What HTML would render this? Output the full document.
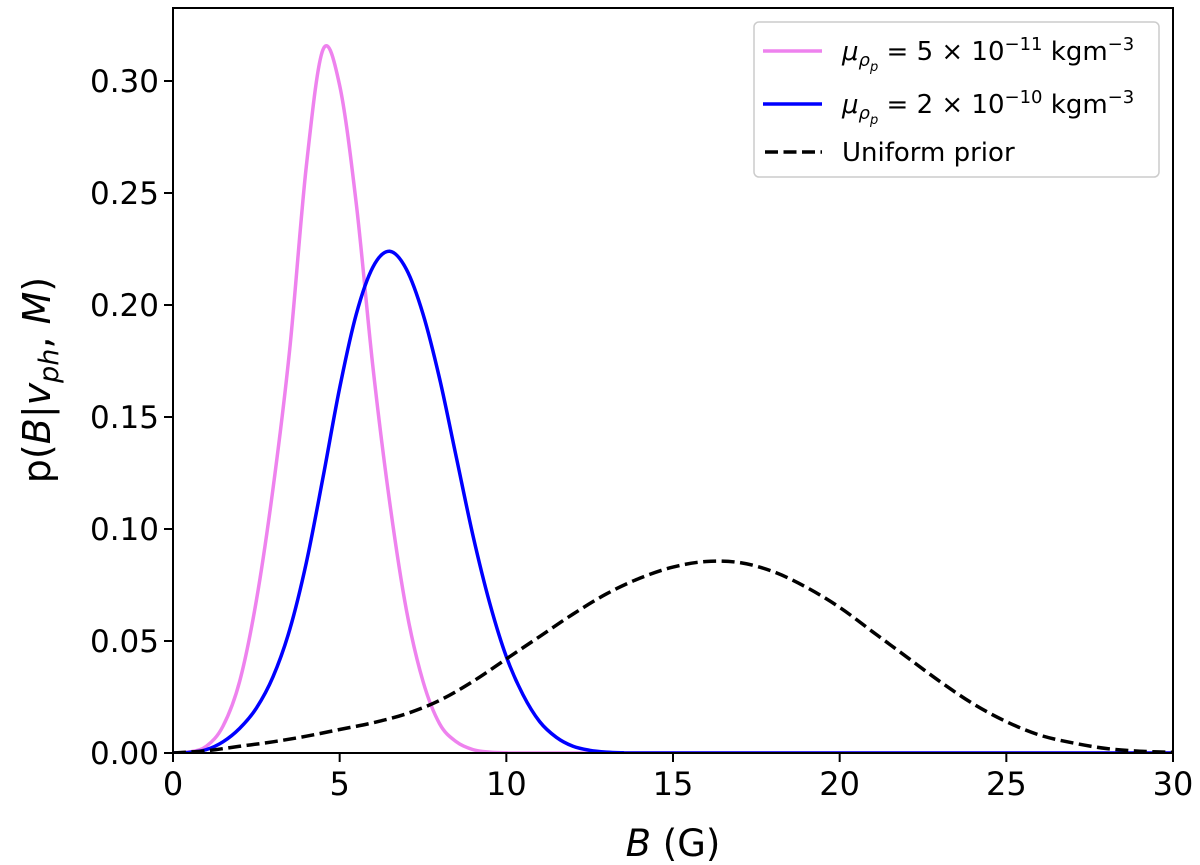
<!DOCTYPE html>
<html><head><meta charset="utf-8"><style>
body{margin:0;background:#fff}
svg{display:block;font-family:"DejaVu Sans","Liberation Sans",sans-serif}
</style></head><body>
<svg id="chart" width="1200" height="865">
</svg>
<script>
const xTicks=[0,5,10,15,20,25,30];
const yTicks=[0,0.05,0.10,0.15,0.20,0.25,0.30];
const yTickLabels=["0.00","0.05","0.10","0.15","0.20","0.25","0.30"];
const pinkB=[0,0.5,1,1.5,2,2.5,3,3.5,4,4.5,5,5.5,6,6.5,7,7.5,8,8.5,9,9.5,10,11,30];
const pinkP=[0,0.0005,0.003,0.012,0.032,0.068,0.118,0.18,0.262,0.314,0.298,0.245,0.172,0.112,0.064,0.032,0.013,0.005,0.0015,0.0004,0.0001,0,0];
const blueB=[0,0.5,1,1.5,2,2.5,3,3.5,4,4.5,5,5.5,6,6.5,7,7.5,8,8.5,9,9.5,10,10.5,11,11.5,12,12.5,13,13.5,14,30];
const blueP=[0,0.0003,0.0015,0.005,0.011,0.02,0.034,0.055,0.085,0.123,0.163,0.196,0.217,0.224,0.216,0.196,0.167,0.132,0.097,0.067,0.043,0.026,0.014,0.007,0.003,0.0012,0.0004,0.0001,0,0];
const priorB=[0,1,2,3,4,5,6,7,8,9,10,11,12,13,14,15,16,17,18,19,20,21,22,23,24,25,26,27,28,29,30];
const priorP=[0,0.001,0.003,0.005,0.0075,0.0105,0.0135,0.0175,0.0235,0.032,0.042,0.052,0.062,0.071,0.078,0.083,0.0855,0.085,0.081,0.074,0.065,0.054,0.043,0.032,0.022,0.014,0.008,0.0045,0.002,0.0008,0.0003];

const L=173,R=1173,T=8,B=753;
const sx=v=>L+(v/30)*(R-L);
const sy=v=>B-(v/0.30)*(B-81);
const NS="http://www.w3.org/2000/svg";
const svg=document.getElementById('chart');
function mk(tag,attrs,parent){const e=document.createElementNS(NS,tag);for(const k in attrs)e.setAttribute(k,attrs[k]);(parent||svg).appendChild(e);return e;}
function pathFor(xs,ys){
  const p=xs.map((x,i)=>[sx(x),sy(ys[i])]);
  let d=`M${p[0][0]},${p[0][1]}`;
  for(let i=0;i<p.length-1;i++){
    const p0=p[i-1]||p[i],p1=p[i],p2=p[i+1],p3=p[i+2]||p2;
    const c1=[p1[0]+(p2[0]-p0[0])/6,p1[1]+(p2[1]-p0[1])/6];
    const c2=[p2[0]-(p3[0]-p1[0])/6,p2[1]-(p3[1]-p1[1])/6];
    d+=`C${c1[0]},${Math.min(c1[1],B)} ${c2[0]},${Math.min(c2[1],B)} ${p2[0]},${p2[1]}`;
  }
  return d;
}
const clip=mk('clipPath',{id:'cp'});mk('rect',{x:L,y:T,width:R-L,height:B-T},clip);
let e;
e=mk('path',{d:pathFor(pinkB,pinkP),fill:'none',stroke:'#ee82ee','stroke-width':3.5,'clip-path':'url(#cp)'});

e=mk('path',{d:pathFor(blueB,blueP),fill:'none',stroke:'#0000ff','stroke-width':3.5,'clip-path':'url(#cp)'});

e=mk('path',{d:pathFor(priorB,priorP),fill:'none',stroke:'#000','stroke-width':3.5,'stroke-dasharray':'13,5.5','clip-path':'url(#cp)'});

e=mk('rect',{x:L,y:T,width:R-L,height:B-T,fill:'none',stroke:'#000','stroke-width':2});

xTicks.forEach(v=>{
  const g=mk('g',{});
  mk('line',{x1:sx(v),x2:sx(v),y1:B,y2:B+9,stroke:'#000','stroke-width':2},g);
  const t=mk('text',{x:sx(v),y:B+42,'font-size':32,'text-anchor':'middle'},g);t.textContent=v;
});
yTicks.forEach((v,i)=>{
  const g=mk('g',{});
  mk('line',{x1:L-9,x2:L,y1:sy(v),y2:sy(v),stroke:'#000','stroke-width':2},g);
  const t=mk('text',{x:L-14,y:sy(v)+11,'font-size':31,'text-anchor':'end'},g);t.textContent=yTickLabels[i];
});
</script>
<svg width="1200" height="865" style="position:absolute;left:0;top:0">
<text x="673" y="856" font-size="37" text-anchor="middle"><tspan font-style="italic">B</tspan> (G)</text>
<text transform="translate(50,380) rotate(-90)" font-size="38" text-anchor="middle">p(<tspan font-style="italic">B</tspan>|<tspan font-style="italic">v</tspan><tspan font-style="italic" font-size="27" dy="8">ph</tspan><tspan dy="-8">, </tspan><tspan font-style="italic">M</tspan>)</text>
<g>
<rect x="754" y="22" width="405" height="155" rx="5" fill="#fff" stroke="#ccc" stroke-width="1.5"/>
<g>
<line x1="763" y1="51" x2="822" y2="51" stroke="#ee82ee" stroke-width="3.5"/>
<text x="842" y="60" font-size="26"><tspan font-style="italic">μ</tspan><tspan font-style="italic" font-size="18" dy="6">ρ</tspan><tspan font-style="italic" font-size="13" dy="5">p</tspan><tspan dy="-11"> = 5 × 10</tspan><tspan font-size="18" dy="-10">−11</tspan><tspan dy="10"> kgm</tspan><tspan font-size="18" dy="-10">−3</tspan></text>
</g>
<g>
<line x1="763" y1="104" x2="822" y2="104" stroke="#0000ff" stroke-width="3.5"/>
<text x="842" y="113" font-size="26"><tspan font-style="italic">μ</tspan><tspan font-style="italic" font-size="18" dy="6">ρ</tspan><tspan font-style="italic" font-size="13" dy="5">p</tspan><tspan dy="-11"> = 2 × 10</tspan><tspan font-size="18" dy="-10">−10</tspan><tspan dy="10"> kgm</tspan><tspan font-size="18" dy="-10">−3</tspan></text>
</g>
<g>
<line x1="765" y1="152" x2="822" y2="152" stroke="#000" stroke-width="3.5" stroke-dasharray="13,5.5"/>
<text x="842" y="161" font-size="26">Uniform prior</text>
</g>
</g>
</svg>
</body></html>
